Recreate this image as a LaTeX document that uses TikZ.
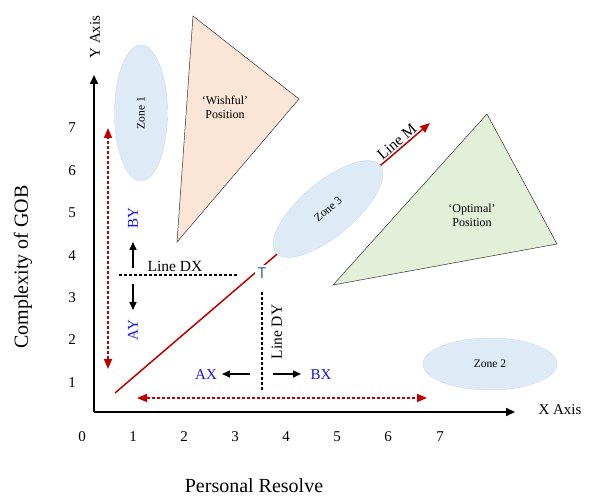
\documentclass[tikz,border=0pt]{standalone}
\usepackage{fontspec}
\setmainfont{Liberation Serif}
\newfontfamily\tfont{Carlito}
\usetikzlibrary{arrows.meta,shapes.geometric}
\definecolor{lmred}{RGB}{192,0,0}
\definecolor{lblue}{RGB}{20,20,235}
\definecolor{tblue}{RGB}{68,114,196}
\definecolor{zonefill}{RGB}{222,235,247}
\definecolor{zoneline}{RGB}{205,218,235}
\definecolor{wishfill}{RGB}{251,229,214}
\definecolor{optfill}{RGB}{226,240,217}
\begin{document}
\begin{tikzpicture}[x=1pt, y=1pt,
  axisline/.style={line width=2pt, -{Triangle[length=9pt, width=8pt]}},
  moveline/.style={line width=1.6pt, -{Triangle[length=8pt, width=7pt]}},
  redrange/.style={lmred, line width=1.5pt, dash pattern=on 3pt off 2pt, {Triangle[length=10pt, width=8pt]}-{Triangle[length=10pt, width=8pt]}},
  blackdash/.style={line width=1.5pt, dash pattern=on 3pt off 2pt},
  zone/.style={ellipse, fill=zonefill, draw=zoneline, line width=0.4pt, inner sep=0pt, font=\fontsize{11.5}{13}\selectfont},
  position/.style={fill=#1, draw=black!80, line width=0.5pt},
  tick/.style={font=\fontsize{15}{17}\selectfont},
  bigtitle/.style={font=\fontsize{20}{24}\selectfont},
  linelabel/.style={font=\fontsize{15.5}{18}\selectfont},
  dirlabel/.style={text=lblue, font=\fontsize{15}{18}\selectfont}]
\useasboundingbox (0,0) rectangle (593,495);
\coordinate (O) at (94,83);
\coordinate (ytip) at (94,420);
\coordinate (xtip) at (515,83);
\draw[axisline] (O) -- (ytip);
\draw[axisline] (O) -- (xtip);
\node[rotate=90, font=\fontsize{15}{17}\selectfont] (ylabel) at (95,458) {Y Axis};
\node[anchor=west, font=\fontsize{15}{17}\selectfont] (xlabel) at (535,85) {X Axis};
\node[tick] (y1) at (72,112) {1};
\node[tick] (y2) at (72,155) {2};
\node[tick] (y3) at (72,197) {3};
\node[tick] (y4) at (72,239) {4};
\node[tick] (y5) at (72,282) {5};
\node[tick] (y6) at (72,324) {6};
\node[tick] (y7) at (72,367) {7};
\node[tick] (x0) at (82,58) {0};
\node[tick] (x1) at (133,58) {1};
\node[tick] (x2) at (184,58) {2};
\node[tick] (x3) at (235,58) {3};
\node[tick] (x4) at (286,58) {4};
\node[tick] (x5) at (337,58) {5};
\node[tick] (x6) at (388,58) {6};
\node[tick] (x7) at (440,58) {7};
\node[bigtitle, rotate=90] (gob) at (23,228) {Complexity of GOB};
\node[bigtitle, anchor=base] (resolve) at (254,3) {Personal Resolve};
\draw[position=wishfill] (193,479) -- (299,396) -- (177,253) -- cycle;
\node[font=\fontsize{12}{14}\selectfont, align=center] (wishful) at (225,388) {`Wishful'\\Position};
\draw[position=optfill] (487,381) -- (557,251) -- (333,210) -- cycle;
\node[font=\fontsize{12}{14}\selectfont, align=center] (optimal) at (472,280) {`Optimal'\\Position};
\node[zone, minimum width=53pt, minimum height=136pt] (zone1) at (141,382) {};
\node[rotate=90, font=\fontsize{11.5}{13}\selectfont] at (zone1) {Zone 1};
\node[zone, minimum width=134pt, minimum height=52pt] (zone2) at (490,131) {Zone 2};
\coordinate (mstart) at (115,102);
\coordinate (mend) at (430,372);
\draw[lmred, line width=1.5pt, -{Triangle[length=10pt, width=8pt]}] (mstart) -- (mend)
  coordinate[pos=0.91] (mlab);
\node[zone, rotate=40, minimum width=136pt, minimum height=54pt] (zone3) at (328,286) {Zone 3};
\node[linelabel, rotate=40.6, anchor=south, inner sep=2pt] (linem) at (mlab) {Line M};
\node[fill=white, inner sep=2.5pt, text=tblue, font=\tfont\fontsize{17}{20}\selectfont] (T) at (262,222) {T};
\coordinate (dxl) at (119,220);
\coordinate (dxr) at (237,220);
\draw[blackdash] (dxl) -- (dxr);
\node[linelabel, anchor=south] (linedx) at (175,220) {Line DX};
\coordinate (dyt) at (262,203);
\coordinate (dyb) at (262,105);
\draw[blackdash] (dyt) -- (dyb);
\node[linelabel, rotate=90, anchor=north] (linedy) at (268,163) {Line DY};
\coordinate (upfoot) at (133,227);
\coordinate (uptip) at (133,253);
\draw[moveline] (upfoot) -- (uptip);
\node[dirlabel, rotate=90] (BY) at (133,277) {BY};
\coordinate (downfoot) at (133,211);
\coordinate (downtip) at (133,185);
\draw[moveline] (downfoot) -- (downtip);
\node[dirlabel, rotate=90] (AY) at (133,165) {AY};
\coordinate (leftfoot) at (250,121);
\coordinate (lefttip) at (222,121);
\draw[moveline] (leftfoot) -- (lefttip);
\node[dirlabel] (AX) at (206,120) {AX};
\coordinate (rightfoot) at (273,121);
\coordinate (righttip) at (301,121);
\draw[moveline] (rightfoot) -- (righttip);
\node[dirlabel] (BX) at (321,120) {BX};
\coordinate (hrl) at (137,97);
\coordinate (hrr) at (427,97);
\draw[redrange] (hrl) -- (hrr);
\coordinate (vrb) at (108,126);
\coordinate (vrt) at (108,367);
\draw[redrange] (vrb) -- (vrt);
\end{tikzpicture}
\end{document}
